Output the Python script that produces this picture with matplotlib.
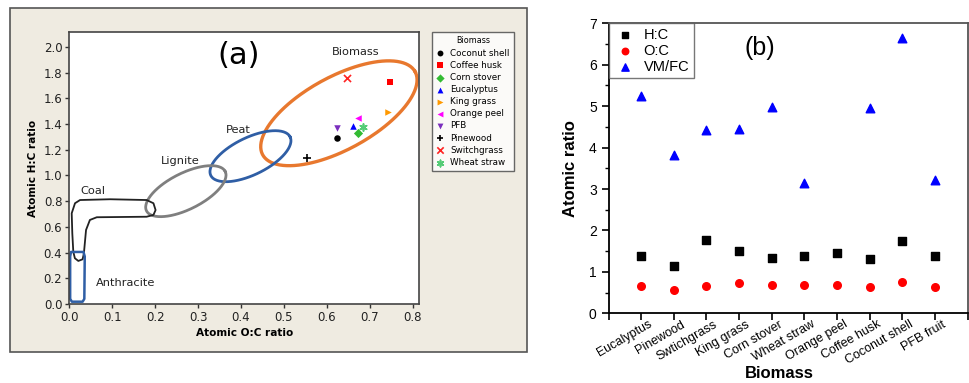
import numpy as np
import matplotlib
matplotlib.use("Agg")
import matplotlib.pyplot as plt
from matplotlib.patches import Rectangle, Polygon

# ---- panel (a) data: atomic O:C vs H:C ----
names_a = ["Coconut shell", "Coffee husk", "Corn stover", "Eucalyptus", "King grass",
           "Orange peel", "PFB", "Pinewood", "Switchgrass", "Wheat straw"]
oc_a = [0.623, 0.746, 0.672, 0.662, 0.742, 0.672, 0.623, 0.553, 0.647, 0.685]
hc_a = [1.289, 1.730, 1.331, 1.388, 1.494, 1.445, 1.367, 1.139, 1.761, 1.375]
markers_a = ["o", "s", "D", "^", ">", "<", "v", "+", "x", (6, 2, 0)]
colors_a = ["black", "#FF0000", "#33BB33", "#0000FF", "#FF9900", "#FF00FF",
            "#7B2FBE", "black", "#FF2222", "#55CC77"]

# regions: centre (O:C, H:C), semi-axes in px of the original figure, angle (deg)
regions = {
    "Biomass": dict(c=(0.628, 1.484), a=86.8, b=36.4, ang=28.6, color="#E8782E", lw=2.4),
    "Peat": dict(c=(0.422, 1.150), a=44.1, b=18.6, ang=25.9, color="#2F5EA5", lw=2.0),
    "Lignite": dict(c=(0.2715, 0.878), a=44.0, b=18.1, ang=26.6, color="#7F7F7F", lw=2.0),
}
coal_oc = [0.0056, 0.0133, 0.025, 0.095, 0.180, 0.196, 0.201, 0.196, 0.180, 0.064, 0.048,
           0.039, 0.034, 0.031, 0.021, 0.013, 0.0093, 0.007]
coal_hc = [0.706, 0.784, 0.809, 0.815, 0.809, 0.784, 0.731, 0.693, 0.679, 0.675, 0.654,
           0.576, 0.394, 0.348, 0.335, 0.356, 0.407, 0.550]
anth_oc = [0.004, 0.033, 0.036, 0.035, 0.031, 0.006, 0.002, 0.002]
anth_hc = [0.405, 0.405, 0.37, 0.04, 0.018, 0.018, 0.04, 0.37]

# ---- panel (b) data ----
biomass_b = ["Eucalyptus", "Pinewood", "Swtichgrass", "King grass", "Corn stover",
             "Wheat straw", "Orange peel", "Coffee husk", "Coconut shell", "PFB fruit"]
hc_b = [1.39, 1.14, 1.77, 1.50, 1.34, 1.38, 1.45, 1.30, 1.74, 1.38]
oc_b = [0.67, 0.56, 0.65, 0.74, 0.68, 0.69, 0.68, 0.63, 0.75, 0.63]
vmfc_b = [5.25, 3.81, 4.42, 4.46, 4.99, 3.15, np.nan, 4.96, 6.65, 3.22]

W, H = 969, 383
fig = plt.figure(figsize=(W / 100, H / 100), dpi=100)

# beige frame behind panel (a)
fig.patches.append(Rectangle((10 / W, 31 / H), 517 / W, 344 / H, transform=fig.transFigure,
                             facecolor="#EFEBE1", edgecolor="#555555", lw=1.2, zorder=-5))

fa = "DejaVu Sans"
ax = fig.add_axes([69.3 / W, 79 / H, 349.7 / W, 271.7 / H])
ax.set_xlim(0, 0.8146)
ax.set_ylim(0, 2.114)
ax.set_xticks(np.arange(0, 0.81, 0.1))
ax.set_yticks(np.arange(0, 2.01, 0.2))
ax.xaxis.set_major_formatter(matplotlib.ticker.FormatStrFormatter("%.1f"))
ax.yaxis.set_major_formatter(matplotlib.ticker.FormatStrFormatter("%.1f"))
ax.tick_params(direction="out", length=3, width=1, colors="#333333", labelsize=8.5,
               labelcolor="#222222", pad=2)
for lab in ax.get_xticklabels() + ax.get_yticklabels():
    lab.set_family(fa)
for s in ax.spines.values():
    s.set_color("#444444")
    s.set_linewidth(1.2)
ax.set_xlabel("Atomic O:C ratio", fontsize=7.6, fontweight="bold", family=fa, labelpad=3)
ax.set_ylabel("Atomic H:C ratio", fontsize=7.6, fontweight="bold", family=fa, labelpad=4)

sx, sy = 349.7 / 0.8146, 271.7 / 2.114   # px per data unit
t = np.linspace(0, 2 * np.pi, 200)
for name, r in regions.items():
    th = np.radians(r["ang"])
    px = r["a"] * np.cos(t) * np.cos(th) - r["b"] * np.sin(t) * np.sin(th)
    py = r["a"] * np.cos(t) * np.sin(th) + r["b"] * np.sin(t) * np.cos(th)
    ax.plot(r["c"][0] + px / sx, r["c"][1] + py / sy, color=r["color"], lw=r["lw"], zorder=2)
ax.add_patch(Polygon(np.column_stack([coal_oc, coal_hc]), closed=True, fill=False,
                     edgecolor="#222222", lw=1.3, joinstyle="round", zorder=2))
ax.add_patch(Polygon(np.column_stack([anth_oc, anth_hc]), closed=True, fill=False,
                     edgecolor="#2F5EA5", lw=1.8, joinstyle="round", zorder=2))

for lbl, (x, y) in {"Biomass": (0.667, 1.958), "Peat": (0.394, 1.354), "Lignite": (0.258, 1.113),
                    "Coal": (0.054, 0.882), "Anthracite": (0.130, 0.166)}.items():
    ax.text(x, y, lbl, ha="center", va="center", fontsize=8.2, family=fa, color="#222222")
ax.text(0.394, 1.93, "(a)", ha="center", va="center", fontsize=22, family=fa)

handles = []
for n, x, y, m, c in zip(names_a, oc_a, hc_a, markers_a, colors_a):
    lw = 1.2 if m in ("+", "x", (6, 2, 0)) else 0
    h = ax.scatter([x], [y], marker=m, s=22 if lw == 0 else 26, color=c, linewidths=lw,
                   zorder=3, label=n)
    handles.append(h)
leg = fig.legend(handles=handles, loc="upper left", bbox_to_anchor=(431.7 / W, 1 - 32 / H),
                 borderaxespad=0, title="Biomass", title_fontsize=5.8,
                 frameon=True, fancybox=False, edgecolor="#444444", handlelength=1,
                 handletextpad=0.6, labelspacing=0.36, borderpad=0.5, markerscale=0.9,
                 prop={"family": fa, "size": 6.3})
leg.get_frame().set_linewidth(1.0)
leg.get_title().set_family(fa)

# ---- panel (b) ----
fb = "Liberation Sans"
bx = fig.add_axes([608.5 / W, 69.7 / H, 359 / W, 290 / H])
xpos = np.arange(1, len(biomass_b) + 1)
bx.scatter(xpos, hc_b, marker="s", s=28, color="black", label="H:C", zorder=3)
bx.scatter(xpos, oc_b, marker="o", s=30, color="#FF0000", label="O:C", zorder=3)
bx.scatter(xpos, vmfc_b, marker="^", s=38, color="#0000FF", label="VM/FC", zorder=3)
bx.set_xlim(0, 11)
bx.set_ylim(0, 7)
bx.set_xticks(np.arange(0, 12))
bx.set_xticklabels([])
# rotated category labels, set a bit to the right of their ticks as in the original
for xp, name in zip(xpos, biomass_b):
    bx.annotate(name, xy=(xp, 0), xycoords=("data", "axes fraction"), xytext=(7, -5),
                textcoords="offset pixels", rotation=30, ha="right", va="top",
                rotation_mode="anchor", family=fb, fontsize=9, annotation_clip=False)
bx.set_yticks(np.arange(0, 8))
bx.set_yticks(np.arange(0.5, 7, 1), minor=True)
bx.tick_params(direction="out", length=5, width=1.2, labelsize=10)
bx.tick_params(axis="y", which="minor", direction="out", length=3, width=1)
for lab in bx.get_yticklabels():
    lab.set_family(fb)
for s in bx.spines.values():
    s.set_linewidth(1.3)
bx.spines["right"].set_color("#555555")
bx.spines["top"].set_color("#555555")
bx.set_xlabel("Biomass", fontsize=12, fontweight="bold", family=fb)
bx.xaxis.set_label_coords(0.475, -0.182)
bx.set_ylabel("Atomic ratio", fontsize=12, fontweight="bold", family=fb, labelpad=8)
bx.text(4.65, 6.4, "(b)", ha="center", va="center", fontsize=18, family=fb)
lg = bx.legend(loc="upper left", bbox_to_anchor=(0, 1), borderaxespad=0, fancybox=False,
               edgecolor="#555555", prop={"family": fb, "size": 10.5}, handletextpad=0.5,
               labelspacing=0.15, borderpad=0.3, handlelength=1.6, markerscale=0.85)
lg.get_frame().set_linewidth(1.0)

fig.savefig("out.png", dpi=100)
